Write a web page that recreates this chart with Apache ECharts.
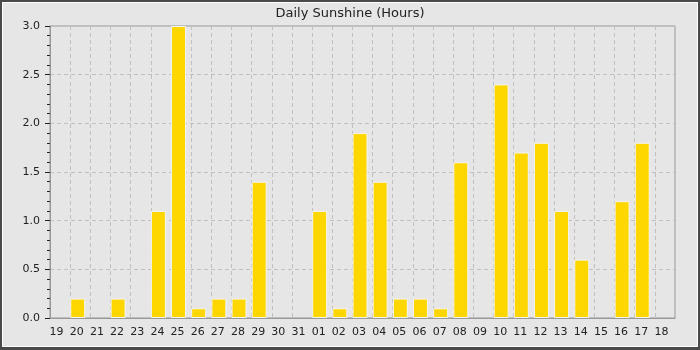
<!DOCTYPE html>
<html>
<head>
<meta charset="utf-8">
<script src="https://cdn.jsdelivr.net/npm/echarts@6/dist/echarts.min.js"></script>
<style>
html,body{margin:0;padding:0;background:#e6e6e6;}
#chart{width:700px;height:350px;}
</style>
</head>
<body>
<div id="chart"></div>
<script>
const titleText = 'Daily Sunshine (Hours)';
const days = ['19','20','21','22','23','24','25','26','27','28','29','30','31','01','02','03','04','05','06','07','08','09','10','11','12','13','14','15','16','17','18'];
const sunshine = [0,0.2,0,0.2,0,1.1,3.0,0.1,0.2,0.2,1.4,0,0,1.1,0.1,1.9,1.4,0.2,0.2,0.1,1.6,0,2.4,1.7,1.8,1.1,0.6,0,1.2,1.8,0];
const yTicks = [0, 0.5, 1.0, 1.5, 2.0, 2.5, 3.0];

const chart = echarts.init(document.getElementById('chart'), null, {renderer:'canvas'});
chart.setOption({
  animation: false,
  backgroundColor: '#e6e6e6',
  title: {
    text: titleText, left: 'center', top: 2,
    textStyle: {fontFamily: 'DejaVu Sans', fontSize: 13, fontWeight: 'normal', color: '#222'}
  },
  grid: {left: 50, top: 26, right: 25, bottom: 32, show: true, borderColor: '#999', borderWidth: 1, backgroundColor: 'transparent'},
  xAxis: {
    type: 'category', data: days, boundaryGap: true,
    axisLine: {lineStyle: {color: '#999'}},
    axisTick: {show: false},
    axisLabel: {fontFamily: 'DejaVu Sans', fontSize: 11, color: '#222', margin: 9, interval: 0, padding: [0, 7, 0, 0]},
    splitLine: {show: true, interval: 0, lineStyle: {color: '#c0c0c0', type: [4, 3], width: 1}}
  },
  yAxis: {
    type: 'value', min: yTicks[0], max: yTicks[yTicks.length-1], interval: 0.5,
    axisLine: {show: true, lineStyle: {color: '#999'}},
    axisTick: {show: true, length: 5, lineStyle: {color: '#222'}},
    minorTick: {show: true, splitNumber: 5, length: 3, lineStyle: {color: '#222'}},
    axisLabel: {fontFamily: 'DejaVu Sans', fontSize: 11, color: '#222', margin: 10, formatter: v => v.toFixed(1)},
    splitLine: {show: true, lineStyle: {color: '#c0c0c0', type: [4, 3], width: 1}}
  },
  series: [
    {type: 'bar', data: sunshine.map(v => v === 0 ? null : v), barWidth: 15, barGap: 0,
     itemStyle: {color: '#ffd700', borderColor: '#f4f4f4', borderWidth: 1}},
    {type: 'bar', data: sunshine.map(() => null), barWidth: 5, barGap: 0, silent: true}
  ],
  graphic: [
    {type: 'rect', shape: {x: 1, y: 1, width: 698, height: 348}, style: {fill: 'none', stroke: '#4a4a4a', lineWidth: 2}, z: 100},
    {type: 'rect', shape: {x: 0, y: 347, width: 700, height: 3}, style: {fill: '#4a4a4a'}, z: 100},
    {type: 'rect', shape: {x: 2.5, y: 2.5, width: 695, height: 344}, style: {fill: 'none', stroke: '#ffffff', lineWidth: 1}, z: 100}
  ]
});
</script>
</body>
</html>
